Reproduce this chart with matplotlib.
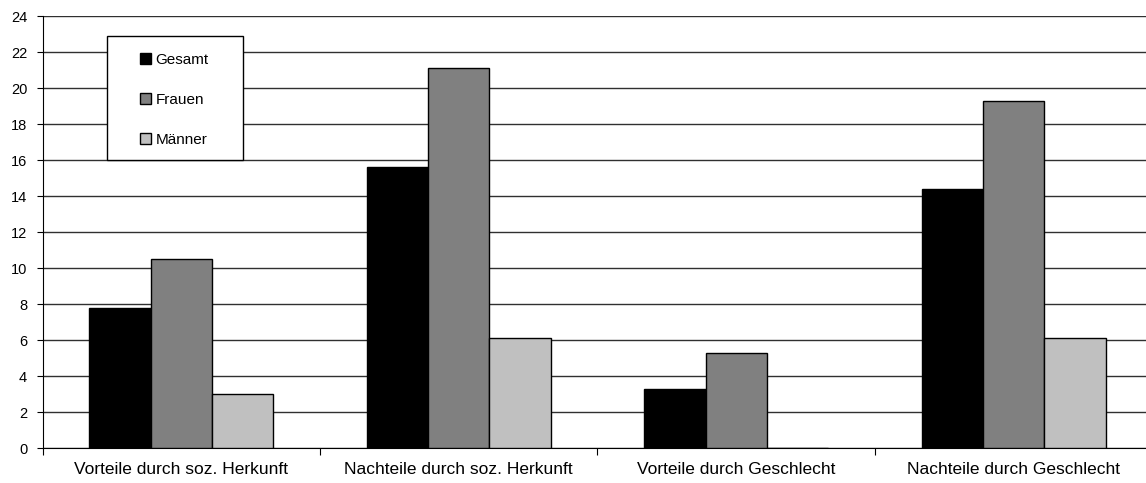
import matplotlib.pyplot as plt
from matplotlib.patches import Rectangle
import numpy as np

plt.rcParams['font.family'] = ['Liberation Sans', 'DejaVu Sans']

categories = ['Vorteile durch soz. Herkunft', 'Nachteile durch soz. Herkunft',
              'Vorteile durch Geschlecht', 'Nachteile durch Geschlecht']
gesamt = [7.8, 15.6, 3.3, 14.4]
frauen = [10.5, 21.1, 5.3, 19.3]
maenner = [3.0, 6.1, 0.0, 6.1]
series = ['Gesamt', 'Frauen', 'Männer']
colors = ['#000000', '#808080', '#c0c0c0']

W, H = 1146, 483
fig = plt.figure(figsize=(W / 100, H / 100), dpi=100)
# plot area runs a little past the right edge of the picture
left, right, top, bottom = 42.5, 1152.5, 16, 448
ax = fig.add_axes([left / W, 1 - bottom / H, (right - left) / W, (bottom - top) / H])

x = np.arange(len(categories))
bw = 0.2216
for i, (vals, name, c) in enumerate(zip([gesamt, frauen, maenner], series, colors)):
    ax.bar(x + (i - 1) * bw, vals, bw, color=c, edgecolor='black', linewidth=1,
           label=name, zorder=3)

ax.set_xlim(-0.5, len(categories) - 0.5)
ax.set_ylim(0, 24)
ax.set_yticks(np.arange(0, 25, 2))
ax.yaxis.grid(True, color='#303030', linewidth=1)
ax.set_axisbelow(True)

ax.set_xticks(np.arange(-0.5, len(categories), 1))
ax.set_xticklabels([])
ax.set_xticks(x, minor=True)
ax.set_xticklabels(categories, minor=True, fontsize=12.5)
ax.tick_params(axis='x', which='minor', length=0, pad=10)
ax.tick_params(axis='x', which='major', length=5, direction='out', color='black')
ax.tick_params(axis='y', length=4, labelsize=10.5, pad=7)

for s in ['top', 'right']:
    ax.spines[s].set_visible(False)
ax.spines['left'].set_color('black')
ax.spines['bottom'].set_color('black')

# legend box
fig.patches.append(Rectangle((107 / W, 1 - 160 / H), 136 / W, 124 / H,
                             transform=fig.transFigure, facecolor='white',
                             edgecolor='black', linewidth=1, zorder=4))
leg = fig.legend(*ax.get_legend_handles_labels(), loc='upper left',
                 bbox_to_anchor=(140 / W, 1 - 53 / H),
                 fontsize=11, frameon=False,
                 handlelength=0.7, handleheight=0.7, handletextpad=0.3,
                 labelspacing=1.7, borderpad=0, borderaxespad=0)
leg.set_zorder(5)

fig.savefig('out.png', dpi=100)
